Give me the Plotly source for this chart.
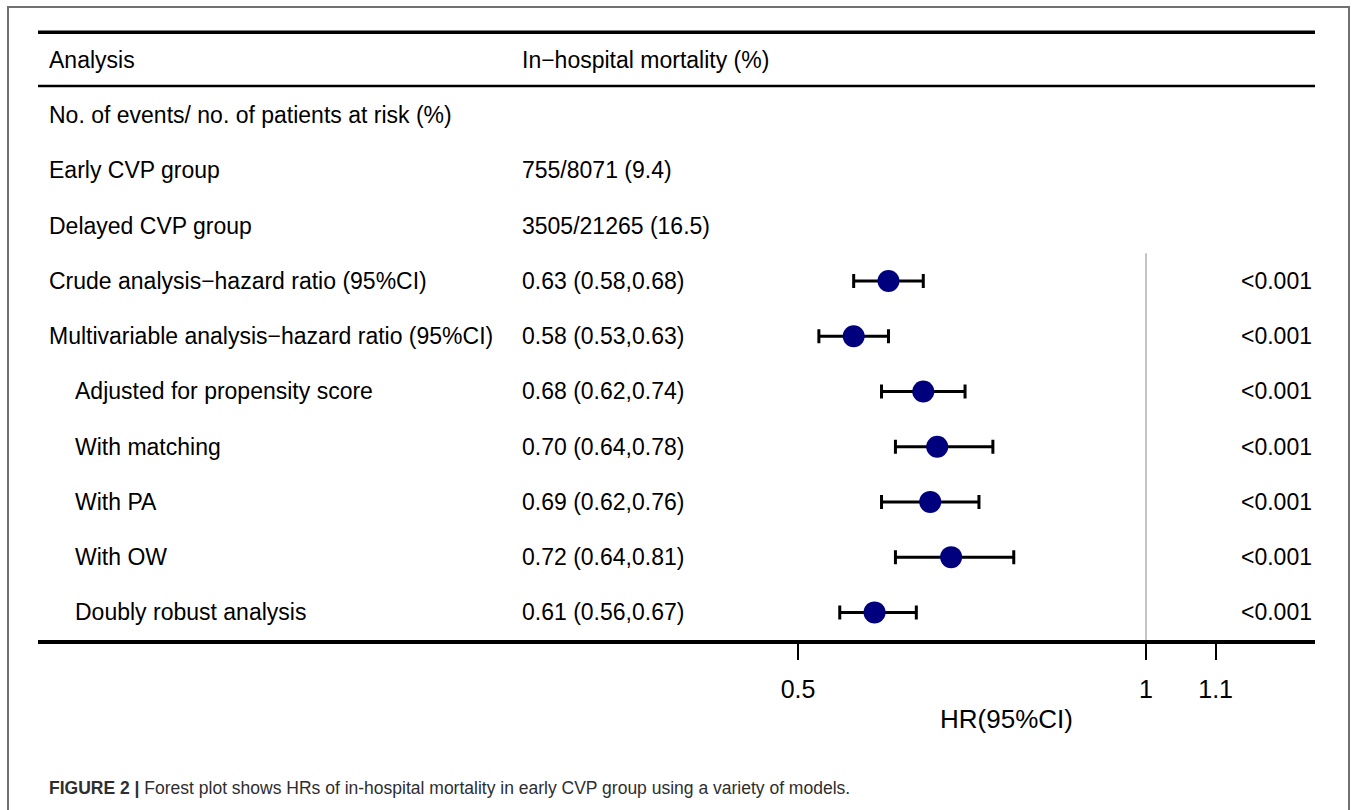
import plotly.graph_objects as go

# ---- data ----
header_labels = ["Analysis", "In\u2212hospital mortality (%)"]
row_labels = [
    "No. of events/ no. of patients at risk (%)",
    "Early CVP group",
    "Delayed CVP group",
    "Crude analysis\u2212hazard ratio (95%CI)",
    "Multivariable analysis\u2212hazard ratio (95%CI)",
    "Adjusted for propensity score",
    "With matching",
    "With PA",
    "With OW",
    "Doubly robust analysis",
]
row_indent = [False, False, False, False, False, True, True, True, True, True]
row_values = [
    "", "755/8071 (9.4)", "3505/21265 (16.5)",
    "0.63 (0.58,0.68)", "0.58 (0.53,0.63)", "0.68 (0.62,0.74)",
    "0.70 (0.64,0.78)", "0.69 (0.62,0.76)", "0.72 (0.64,0.81)",
    "0.61 (0.56,0.67)",
]
hr = [None, None, None, 0.63, 0.58, 0.68, 0.70, 0.69, 0.72, 0.61]
lo = [None, None, None, 0.58, 0.53, 0.62, 0.64, 0.62, 0.64, 0.56]
hi = [None, None, None, 0.68, 0.63, 0.74, 0.78, 0.76, 0.81, 0.67]
pvals = ["", "", "", "<0.001", "<0.001", "<0.001", "<0.001", "<0.001", "<0.001", "<0.001"]
tick_vals = [0.5, 1, 1.1]
tick_text = ["0.5", "1", "1.1"]
x_title = "HR(95%CI)"
caption_bold = "FIGURE 2 |"
caption_text = " Forest plot shows HRs of in-hospital mortality in early CVP group using a variety of models."

W, H = 1357, 810
FONT = "Liberation Sans, Arial, sans-serif"
n_rows = len(row_labels)

rows = list(range(1, n_rows + 1))
pts = [(r, h, l, u) for r, h, l, u in zip(rows, hr, lo, hi) if h is not None]

fig = go.Figure()
fig.add_trace(go.Scatter(
    x=[p[1] for p in pts],
    y=[p[0] for p in pts],
    mode="markers",
    marker=dict(size=22, color="#00007f", line=dict(width=0)),
    error_x=dict(
        type="data", symmetric=False,
        array=[p[3] - p[1] for p in pts],
        arrayminus=[p[1] - p[2] for p in pts],
        color="black", thickness=3, width=7,
    ),
    showlegend=False, hoverinfo="skip",
))

xdom = [38 / W, 1315 / W]
ydom = [(H - 640) / H, 1.0]

ann = []
# header
ann.append(dict(x=47 / W, y=0, xref="paper", yref="y", text=header_labels[0],
                xanchor="left", yanchor="middle", showarrow=False))
ann.append(dict(x=520 / W, y=0, xref="paper", yref="y", text=header_labels[1],
                xanchor="left", yanchor="middle", showarrow=False))
for r, lab, ind, val, pv in zip(rows, row_labels, row_indent, row_values, pvals):
    ann.append(dict(x=(73 if ind else 47) / W, y=r, xref="paper", yref="y", text=lab,
                    xanchor="left", yanchor="middle", showarrow=False))
    if val:
        ann.append(dict(x=520 / W, y=r, xref="paper", yref="y", text=val,
                        xanchor="left", yanchor="middle", showarrow=False))
    if pv:
        ann.append(dict(x=1314 / W, y=r, xref="paper", yref="y", text=pv.replace("<", "&lt;"),
                        xanchor="right", yanchor="middle", showarrow=False))
# axis title
ann.append(dict(x=1006 / W, y=1 - 719 / H, xref="paper", yref="paper", text=x_title,
                xanchor="center", yanchor="middle", showarrow=False, font=dict(size=26)))
# caption
ann.append(dict(x=47 / W, y=1 - 788 / H, xref="paper", yref="paper",
                text="<b>" + caption_bold + "</b>" + caption_text,
                xanchor="left", yanchor="middle", showarrow=False,
                font=dict(size=17.5, color="#2e2e2e")))

shapes = [
    # top rule
    dict(type="line", xref="x domain", yref="y", x0=0, x1=1, y0=-0.5, y1=-0.5,
         line=dict(color="black", width=3.5)),
    # header rule
    dict(type="line", xref="x domain", yref="y", x0=0, x1=1, y0=0.47, y1=0.47,
         line=dict(color="black", width=2.5)),
    # reference line at HR=1
    dict(type="line", xref="x", yref="y", x0=1, x1=1, y0=3.5, y1=n_rows + 0.5,
         line=dict(color="#b0b0b0", width=1.5)),
    # frame border
    dict(type="rect", xref="paper", yref="paper", x0=8 / W, x1=1349 / W,
         y0=-0.05, y1=1 - 7 / H, line=dict(color="#707070", width=2)),
]

fig.update_layout(
    width=W, height=H,
    margin=dict(l=0, r=0, t=0, b=0),
    paper_bgcolor="white", plot_bgcolor="white",
    font=dict(family=FONT, size=23, color="black"),
    annotations=ann, shapes=shapes,
    xaxis=dict(
        domain=xdom, range=[0.5 - (798 - 38) / 696, 1 + (1315 - 1146) / 696],
        showgrid=False, zeroline=False,
        showline=True, linewidth=3.5, linecolor="black",
        ticks="outside", ticklen=16, tickwidth=2, tickcolor="black",
        tickvals=tick_vals, ticktext=tick_text, tickfont=dict(size=25),
        ticklabelstandoff=8,
    ),
    yaxis=dict(
        domain=ydom, range=[n_rows + 0.5, -60 / 55.25],
        showgrid=False, zeroline=False, showticklabels=False, showline=False,
    ),
)

fig.write_html("out.html", config={"displayModeBar": False},
               post_script="document.body.style.margin='0px';")
